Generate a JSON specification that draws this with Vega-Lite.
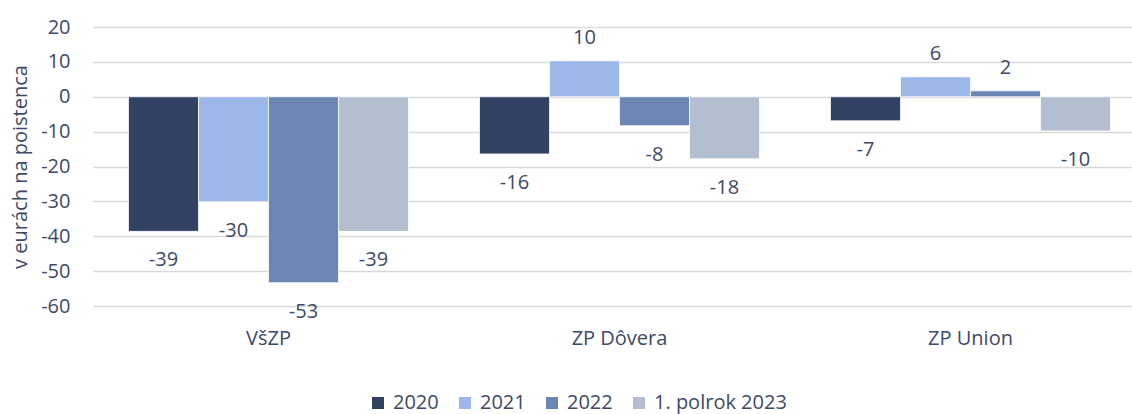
{
  "$schema": "https://vega.github.io/schema/vega-lite/v6.json",
  "width": 1039,
  "height": 279,
  "autosize": {"type": "none"},
  "padding": {"left": 93, "top": 27, "right": 0, "bottom": 108},
  "config": {
    "font": "Open Sans",
    "view": {"stroke": null},
    "locale": {"number": {"decimal": ".", "thousands": " ", "grouping": [3], "currency": ["", " €"], "minus": "-"}},
    "axis": {"labelFont": "Open Sans", "titleFont": "Open Sans", "labelColor": "#3d4a66", "titleColor": "#3d4a66"}
  },
  "data": {
    "values": [
      {"poistovna": "VšZP", "obdobie": "2020", "v": -38.6},
      {"poistovna": "VšZP", "obdobie": "2021", "v": -30.1},
      {"poistovna": "VšZP", "obdobie": "2022", "v": -53.3},
      {"poistovna": "VšZP", "obdobie": "1. polrok 2023", "v": -38.6},
      {"poistovna": "ZP Dôvera", "obdobie": "2020", "v": -16.4},
      {"poistovna": "ZP Dôvera", "obdobie": "2021", "v": 10.3},
      {"poistovna": "ZP Dôvera", "obdobie": "2022", "v": -8.3},
      {"poistovna": "ZP Dôvera", "obdobie": "1. polrok 2023", "v": -17.8},
      {"poistovna": "ZP Union", "obdobie": "2020", "v": -6.9},
      {"poistovna": "ZP Union", "obdobie": "2021", "v": 5.7},
      {"poistovna": "ZP Union", "obdobie": "2022", "v": 1.7},
      {"poistovna": "ZP Union", "obdobie": "1. polrok 2023", "v": -9.8}
    ]
  },
  "encoding": {
    "x": {
      "field": "poistovna",
      "type": "nominal",
      "sort": ["VšZP", "ZP Dôvera", "ZP Union"],
      "scale": {"range": [0, 1053], "paddingInner": 0, "paddingOuter": 0},
      "axis": {"title": null, "labelAngle": 0, "ticks": false, "domain": false, "grid": false, "labelFontSize": 20, "labelPadding": 22}
    },
    "xOffset": {
      "field": "obdobie",
      "type": "nominal",
      "sort": ["2020", "2021", "2022", "1. polrok 2023"],
      "scale": {"paddingInner": 0, "paddingOuter": 0.507}
    },
    "y": {
      "field": "v",
      "type": "quantitative",
      "scale": {"domain": [-60, 20], "nice": false, "zero": false},
      "axis": {
        "title": "v eurách na poistenca",
        "titleFontSize": 20,
        "titleFontWeight": "normal",
        "titlePadding": 10,
        "values": [-60, -50, -40, -30, -20, -10, 0, 10, 20],
        "labelFontSize": 20,
        "labelPadding": 23,
        "ticks": false,
        "domain": false,
        "gridColor": "#d9d9d9",
        "gridWidth": 1.5
      }
    }
  },
  "layer": [
    {
      "mark": {"type": "bar", "stroke": "white", "strokeWidth": 0.75},
      "encoding": {
        "color": {
          "field": "obdobie",
          "type": "nominal",
          "sort": ["2020", "2021", "2022", "1. polrok 2023"],
          "scale": {"domain": ["2020", "2021", "2022", "1. polrok 2023"], "range": ["#314263", "#9bb8e8", "#6d87b5", "#b3bfd0"]},
          "legend": {
            "title": null,
            "orient": "none",
            "direction": "horizontal",
            "legendX": 275,
            "legendY": 366,
            "padding": 0,
            "symbolType": "square",
            "symbolSize": 144,
            "symbolStrokeWidth": 0,
            "labelFontSize": 20,
            "labelFont": "Open Sans",
            "labelColor": "#3d4a66",
            "labelOffset": 5,
            "columnPadding": 16
          }
        }
      }
    },
    {
      "transform": [{"filter": "datum.v < 0"}],
      "mark": {"type": "text", "baseline": "top", "dy": 19, "fontSize": 20, "color": "#3d4a66", "font": "Open Sans"},
      "encoding": {"text": {"field": "v", "type": "quantitative", "format": ".0f"}}
    },
    {
      "transform": [{"filter": "datum.v >= 0"}],
      "mark": {"type": "text", "baseline": "alphabetic", "dy": -17, "fontSize": 20, "color": "#3d4a66", "font": "Open Sans"},
      "encoding": {"text": {"field": "v", "type": "quantitative", "format": ".0f"}}
    }
  ]
}
